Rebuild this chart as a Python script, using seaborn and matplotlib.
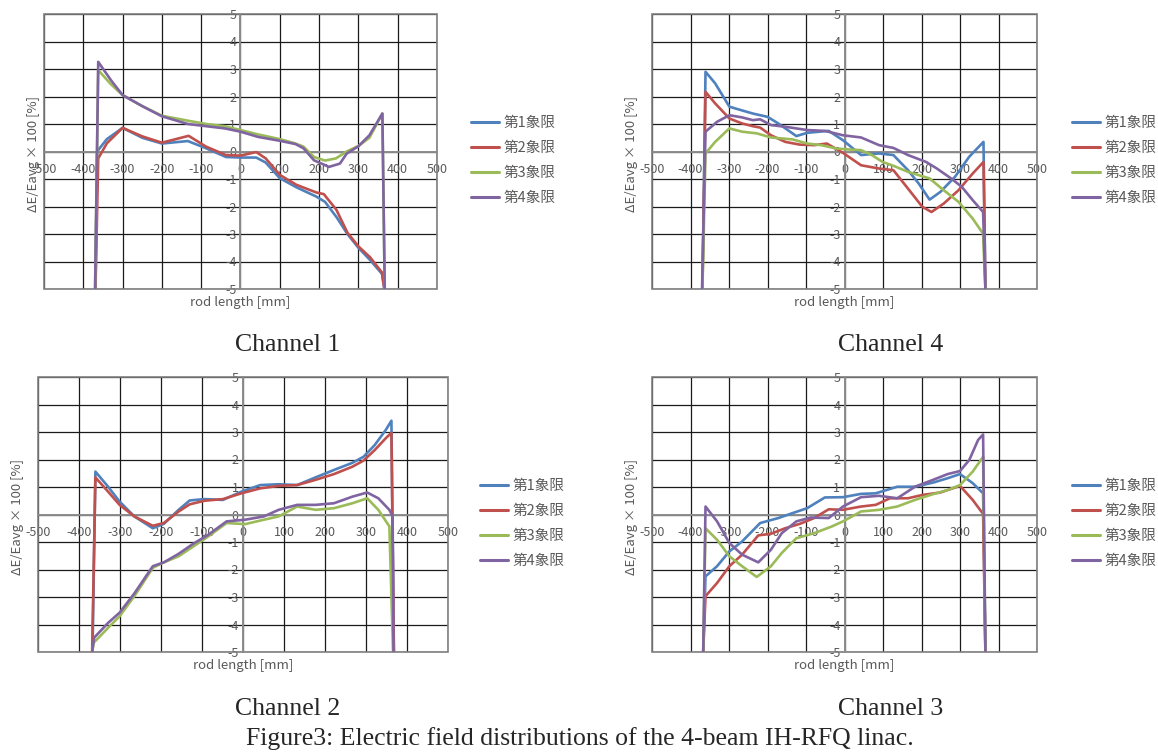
import matplotlib
matplotlib.use("Agg")
import matplotlib.pyplot as plt
from matplotlib.patches import Rectangle
import seaborn as sns
import pandas as pd

# ---- data (x in mm, y = dE/Eavg*100 in %) ----
quadrants = ["第1象限", "第2象限", "第3象限", "第4象限"]
colors = ["#4F81BD", "#C0504D", "#9BBB59", "#8064A2"]

# Channel 1
ch1_q1_x = [-369, -365, -340, -300, -250, -200, -134, -88, -37, 0, 40, 64, 100, 142, 193, 215, 245, 272, 300, 330, 360, 366]
ch1_q1_y = [-5, 0.0, 0.45, 0.86, 0.5, 0.29, 0.38, 0.12, -0.2, -0.22, -0.22, -0.4, -0.97, -1.3, -1.64, -1.83, -2.4, -3.0, -3.5, -3.95, -4.45, -5]
ch1_q2_x = [-369, -362, -340, -300, -250, -200, -132, -88, -37, 0, 40, 64, 100, 142, 193, 212, 244, 272, 300, 330, 360, 366]
ch1_q2_y = [-5, -0.25, 0.3, 0.86, 0.55, 0.32, 0.57, 0.18, -0.13, -0.15, -0.02, -0.25, -0.85, -1.21, -1.49, -1.55, -2.12, -2.95, -3.45, -3.85, -4.4, -5]
ch1_q3_x = [-370, -362, -330, -300, -250, -200, -134, -87, -40, 0, 45, 100, 140, 160, 187, 215, 243, 270, 300, 328, 361, 367]
ch1_q3_y = [-5, 2.96, 2.45, 2.05, 1.65, 1.3, 1.12, 1.0, 0.92, 0.78, 0.62, 0.45, 0.29, 0.18, -0.2, -0.33, -0.25, 0.0, 0.2, 0.5, 1.38, -5]
ch1_q4_x = [-370, -362, -330, -300, -250, -200, -134, -87, -40, 0, 45, 100, 140, 160, 187, 225, 253, 270, 300, 328, 361, 367]
ch1_q4_y = [-5, 3.26, 2.6, 2.05, 1.65, 1.28, 1.0, 0.92, 0.84, 0.72, 0.53, 0.39, 0.27, 0.12, -0.32, -0.56, -0.44, -0.08, 0.19, 0.59, 1.38, -5]

# Channel 4
ch4_q1_x = [-369, -361, -336, -299, -275, -238, -200, -172, -125, -97, -41, -4, 43, 90, 127, 165, 193, 221, 249, 287, 324, 361, 366]
ch4_q1_y = [-5, 2.9, 2.48, 1.63, 1.53, 1.38, 1.26, 1.02, 0.56, 0.68, 0.75, 0.41, -0.13, -0.07, -0.13, -0.68, -1.17, -1.75, -1.47, -0.92, -0.19, 0.35, -5]
ch4_q2_x = [-369, -361, -336, -299, -266, -238, -219, -191, -154, -116, -79, -46, -4, 43, 90, 127, 165, 202, 226, 258, 296, 333, 361, 366]
ch4_q2_y = [-5, 2.17, 1.75, 1.2, 1.02, 0.92, 0.87, 0.59, 0.35, 0.25, 0.23, 0.29, -0.05, -0.5, -0.62, -0.68, -1.35, -2.01, -2.2, -1.89, -1.41, -0.8, -0.38, -5]
ch4_q3_x = [-369, -361, -336, -299, -266, -228, -191, -135, -97, -60, -22, 15, 43, 71, 99, 127, 165, 193, 221, 258, 296, 333, 360, 363, 366]
ch4_q3_y = [-5, -0.07, 0.35, 0.84, 0.72, 0.66, 0.51, 0.44, 0.29, 0.23, 0.11, 0.07, 0.05, -0.13, -0.38, -0.52, -0.74, -0.86, -0.98, -1.41, -1.83, -2.44, -2.99, -4.1, -5]
ch4_q4_x = [-370, -361, -331, -299, -266, -238, -219, -191, -154, -97, -51, -4, 43, 90, 127, 165, 212, 240, 277, 305, 333, 360, 366]
ch4_q4_y = [-5, 0.72, 1.08, 1.32, 1.24, 1.14, 1.17, 0.96, 0.9, 0.78, 0.75, 0.59, 0.51, 0.23, 0.13, -0.13, -0.38, -0.62, -0.98, -1.29, -1.77, -2.2, -5]

# Channel 2
ch2_q1_x = [-367, -360, -329, -301, -265, -220, -193, -157, -130, -94, -49, -4, 42, 87, 132, 177, 222, 267, 294, 321, 348, 362, 368]
ch2_q1_y = [-5, 1.56, 1.01, 0.47, -0.07, -0.5, -0.34, 0.17, 0.51, 0.56, 0.53, 0.83, 1.07, 1.1, 1.07, 1.35, 1.62, 1.88, 2.1, 2.52, 3.07, 3.41, -5]
ch2_q2_x = [-368, -360, -329, -301, -265, -220, -193, -157, -130, -94, -49, -4, 42, 87, 132, 177, 222, 267, 294, 321, 348, 362, 368]
ch2_q2_y = [-5, 1.35, 0.83, 0.35, -0.07, -0.41, -0.31, 0.11, 0.37, 0.5, 0.56, 0.77, 0.95, 1.04, 1.07, 1.26, 1.47, 1.74, 1.96, 2.34, 2.77, 2.97, -5]
ch2_q3_x = [-368, -364, -329, -301, -265, -220, -193, -157, -121, -85, -40, 5, 51, 87, 132, 177, 222, 267, 303, 330, 357, 366]
ch2_q3_y = [-5, -4.66, -4.12, -3.7, -2.97, -1.94, -1.74, -1.52, -1.16, -0.8, -0.31, -0.35, -0.19, -0.07, 0.29, 0.17, 0.23, 0.41, 0.59, 0.17, -0.43, -5]
ch2_q4_x = [-368, -363, -329, -301, -265, -220, -193, -157, -121, -85, -40, 5, 51, 87, 132, 177, 222, 267, 303, 330, 357, 365, 367]
ch2_q4_y = [-5, -4.48, -3.94, -3.57, -2.87, -1.88, -1.74, -1.43, -1.06, -0.74, -0.25, -0.19, -0.07, 0.17, 0.35, 0.35, 0.41, 0.65, 0.8, 0.59, 0.17, -0.07, -5]

# Channel 3
ch3_q1_x = [-367, -361, -331, -299, -266, -219, -172, -135, -97, -51, -4, 43, 81, 137, 183, 230, 268, 300, 333, 360, 366]
ch3_q1_y = [-5, -2.25, -1.88, -1.34, -0.98, -0.31, -0.13, 0.05, 0.23, 0.62, 0.63, 0.75, 0.77, 1.01, 1.01, 1.16, 1.32, 1.47, 1.14, 0.77, -5]
ch3_q2_x = [-367, -361, -331, -299, -266, -224, -191, -154, -116, -79, -41, -4, 43, 81, 118, 165, 202, 249, 300, 333, 360, 366]
ch3_q2_y = [-5, -2.97, -2.49, -1.88, -1.46, -0.76, -0.7, -0.5, -0.34, -0.13, 0.19, 0.17, 0.29, 0.35, 0.59, 0.59, 0.71, 0.8, 1.04, 0.53, 0.02, -5]
ch3_q3_x = [-367, -361, -331, -299, -266, -228, -191, -163, -125, -79, -32, -4, 43, 90, 137, 183, 230, 268, 300, 333, 360, 366]
ch3_q3_y = [-5, -0.5, -0.92, -1.52, -1.88, -2.27, -1.88, -1.4, -0.86, -0.68, -0.43, -0.25, 0.11, 0.17, 0.29, 0.53, 0.74, 0.89, 1.07, 1.56, 2.1, -5]
ch3_q4_x = [-367, -361, -331, -299, -266, -224, -191, -163, -125, -88, -41, -4, 43, 90, 137, 183, 230, 268, 300, 324, 347, 360, 366]
ch3_q4_y = [-5, 0.29, -0.25, -1.04, -1.46, -1.74, -1.28, -0.68, -0.25, -0.11, -0.13, 0.29, 0.63, 0.68, 0.59, 1.01, 1.26, 1.47, 1.58, 1.98, 2.71, 2.91, -5]

x_ticks = [-500, -400, -300, -200, -100, 0, 100, 200, 300, 400, 500]
y_ticks = [-5, -4, -3, -2, -1, 0, 1, 2, 3, 4, 5]

channels = {
    "Channel 1": [(ch1_q1_x, ch1_q1_y), (ch1_q2_x, ch1_q2_y), (ch1_q3_x, ch1_q3_y), (ch1_q4_x, ch1_q4_y)],
    "Channel 4": [(ch4_q1_x, ch4_q1_y), (ch4_q2_x, ch4_q2_y), (ch4_q3_x, ch4_q3_y), (ch4_q4_x, ch4_q4_y)],
    "Channel 2": [(ch2_q1_x, ch2_q1_y), (ch2_q2_x, ch2_q2_y), (ch2_q3_x, ch2_q3_y), (ch2_q4_x, ch2_q4_y)],
    "Channel 3": [(ch3_q1_x, ch3_q1_y), (ch3_q2_x, ch3_q2_y), (ch3_q3_x, ch3_q3_y), (ch3_q4_x, ch3_q4_y)],
}

# layout in figure pixels: axes box (left, top, right, bottom), legend anchor,
# y-label offset, caption centre
W, H = 1158, 752
layout = {
    "Channel 1": dict(box=(44, 14, 437, 289), leg=(471, 116), ylab=-11, cap=(288, 345)),
    "Channel 4": dict(box=(652, 14, 1037, 289), leg=(1072, 116), ylab=-20, cap=(891, 345)),
    "Channel 2": dict(box=(38, 377, 448, 652), leg=(480, 479), ylab=-21, cap=(288, 709)),
    "Channel 3": dict(box=(652, 377, 1037, 652), leg=(1072, 479), ylab=-20, cap=(891, 709)),
}

sns.set_style("white")
plt.rcParams["font.family"] = ["Noto Sans CJK JP", "DejaVu Sans"]
plt.rcParams["axes.unicode_minus"] = False

gray_txt = "#595959"
fig = plt.figure(figsize=(W / 100, H / 100), dpi=100)

for name, series in channels.items():
    lay = layout[name]
    l, t, r, b = lay["box"]
    ax = fig.add_axes([l / W, 1 - b / H, (r - l) / W, (b - t) / H])

    frames = []
    for q, (xs, ys) in zip(quadrants, series):
        frames.append(pd.DataFrame({"x": xs, "y": ys, "quadrant": q}))
    df = pd.concat(frames, ignore_index=True)

    sns.lineplot(data=df, x="x", y="y", hue="quadrant", hue_order=quadrants,
                 palette=colors, sort=False, estimator=None, linewidth=1.9,
                 ax=ax, legend=True, zorder=3)

    ax.set_xlim(-500, 500)
    ax.set_ylim(-5, 5)
    ax.set_xticks(x_ticks)
    ax.set_yticks(y_ticks)
    ax.grid(True, color="#1a1a1a", linewidth=0.9)
    ax.set_axisbelow(True)

    # axes cross at zero like the spreadsheet chart
    for side in ["top", "right"]:
        ax.spines[side].set_visible(False)
    for side in ["left", "bottom"]:
        ax.spines[side].set_position(("data", 0))
        ax.spines[side].set_color("#8c8c8c")
        ax.spines[side].set_linewidth(1.4)
        ax.spines[side].set_zorder(2)
    ax.add_patch(Rectangle((0, 0), 1, 1, transform=ax.transAxes, fill=False,
                           edgecolor="#7f7f7f", linewidth=1.2, clip_on=False, zorder=2))

    ax.tick_params(axis="both", length=0, labelsize=9, labelcolor=gray_txt)
    ax.tick_params(axis="x", pad=8.5)
    ax.tick_params(axis="y", pad=3)
    ax.set_xticklabels([str(v) for v in x_ticks])
    ax.set_yticklabels([str(v) for v in y_ticks])
    ax.set_xlabel("")
    ax.set_ylabel("")

    ax.text(0.5, -0.05, "rod length [mm]", transform=ax.transAxes, ha="center",
            va="center", fontsize=9.5, color=gray_txt)
    ax.text(lay["ylab"] / (r - l), 0.49, "ΔE/Eavg × 100 [%]", transform=ax.transAxes,
            rotation=90, ha="center", va="center", fontsize=9.5, color=gray_txt)

    handles, labels = ax.get_legend_handles_labels()
    ax.get_legend().remove()
    lx, ly = lay["leg"]
    leg = ax.legend(handles, labels, loc="upper left",
                    bbox_to_anchor=(lx / W, 1 - ly / H), bbox_transform=fig.transFigure,
                    frameon=False, fontsize=10.5, handlelength=1.9, handletextpad=0.3,
                    labelspacing=0.75, borderpad=0, borderaxespad=0)
    for txt in leg.get_texts():
        txt.set_color(gray_txt)
    for line in leg.get_lines():
        line.set_linewidth(2.2)

    cx, cy = lay["cap"]
    fig.text(cx / W, 1 - cy / H, name, ha="center", va="center",
             fontsize=18.5, family="Liberation Serif")

fig.text(580 / W, 1 - 739 / H, "Figure3: Electric field distributions of the 4-beam IH-RFQ linac.",
         ha="center", va="center", fontsize=18.5, family="Liberation Serif")

fig.savefig("out.png", dpi=100)
